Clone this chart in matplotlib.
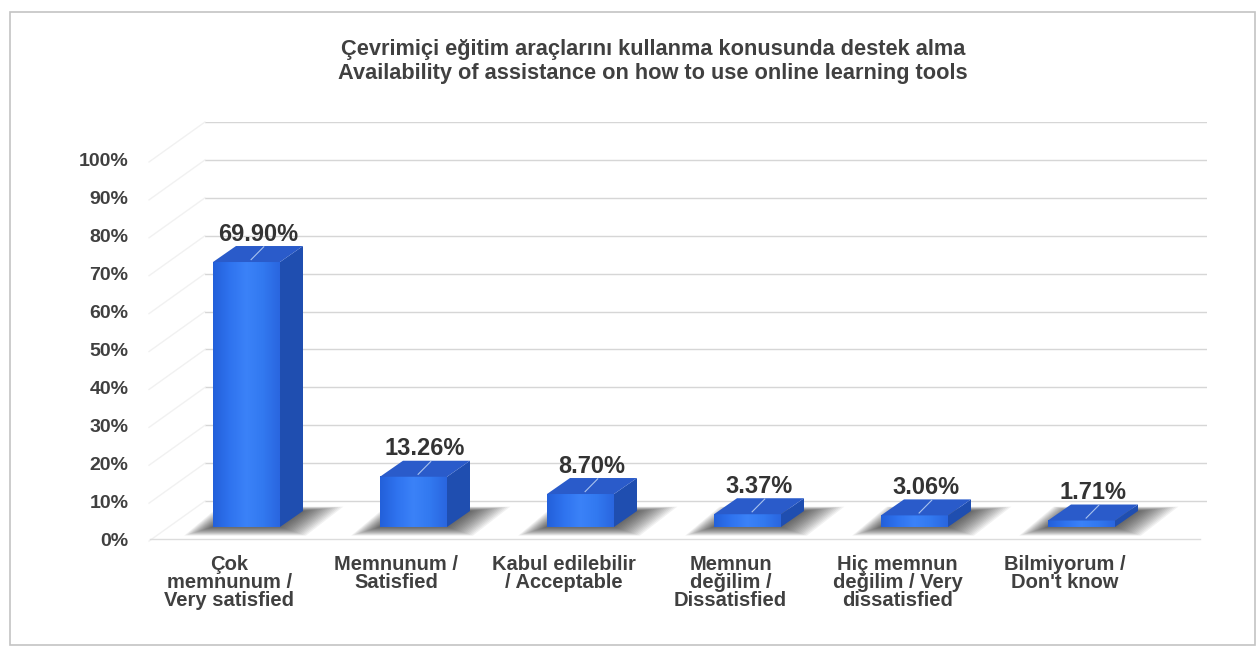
import numpy as np
import matplotlib
matplotlib.use('Agg')
import matplotlib.pyplot as plt
from matplotlib.patches import Polygon, Rectangle
from matplotlib.transforms import ScaledTranslation
from matplotlib.colors import LinearSegmentedColormap

plt.rcParams['font.family'] = ['Liberation Sans', 'DejaVu Sans']

title_tr = 'Çevrimiçi eğitim araçlarını kullanma konusunda destek alma'
title_en = 'Availability of assistance on how to use online learning tools'

categories = ['Çok\nmemnunum /\nVery satisfied',
              'Memnunum /\nSatisfied',
              'Kabul edilebilir\n/ Acceptable',
              'Memnun\ndeğilim /\nDissatisfied',
              'Hiç memnun\ndeğilim / Very\ndissatisfied',
              'Bilmiyorum /\nDon\'t know']
values = [69.90, 13.26, 8.70, 3.37, 3.06, 1.71]
yticks = [0, 10, 20, 30, 40, 50, 60, 70, 80, 90, 100]

W, H, DPI = 1260, 652, 100
PX_X = 167.0          # pixels per category step
PX_Y = 417.0 / 110    # pixels per percent
BAR_W = 67 / PX_X
DX = 23 / PX_X        # depth of the 3d box
DY = 16 / PX_Y
TXT = '#404040'

fig = plt.figure(figsize=(W / DPI, H / DPI), dpi=DPI)
ax = fig.add_axes([205 / W, 113 / H, 1002 / W, 417 / H])
x_lo = -41.5 / PX_X
x_hi = (1207 - 246.5) / PX_X
for s in ax.spines.values():
    s.set_visible(False)
ax.set_xticks([])
ax.set_yticks(yticks)
ax.set_yticklabels([f'{t}%' for t in yticks], fontsize=14, fontweight='bold', color=TXT)
ax.tick_params(axis='y', length=0, pad=55)

# back wall grid + faint side wall lines
for v in range(10, 111, 10):
    ax.axhline(v, color='#d6d6d6', lw=1, zorder=0)
    ax.plot([x_lo, x_lo - 56 / PX_X], [v, v - 40 / PX_Y], color='#f1f1f1', lw=1,
            clip_on=False, zorder=0)
ax.plot([x_lo - 55 / PX_X, (1200 - 246.5) / PX_X], [0, 0], color='#dcdcdc', lw=1,
        clip_on=False, zorder=0)

# the boxes sit a little in front of (above) the back-wall zero line
bar_tr = ax.transData + ScaledTranslation(0, 12 / DPI, fig.dpi_scale_trans)
lab_tr = ax.transData + ScaledTranslation(0, 40 / DPI, fig.dpi_scale_trans)
cat_tr = ax.transData + ScaledTranslation(-17 / DPI, -16 / DPI, fig.dpi_scale_trans)

front_cmap = LinearSegmentedColormap.from_list(
    'front', ['#2360da', '#2f73ef', '#3b82f8', '#3279f0', '#2a66e0'])
grad = np.linspace(0, 1, 64)[None, :]

for i, v in enumerate(values):
    x0, x1 = i - BAR_W / 2, i + BAR_W / 2

    # soft shadow on the floor
    for k in range(16):
        e = (16 - k) * 1.8
        ex, ey = e / PX_X, e / PX_Y
        shadow = Polygon([(x0 - ex * 1.0, -ey * 0.3), (x1 + ex * 0.9, -ey * 0.3),
                          (x1 + DX + ex * 1.4, DY + ey * 0.15),
                          (x0 + DX - ex * 0.6, DY + ey * 0.15)],
                         closed=True, fc='#1a1a1a', ec='none', alpha=0.06,
                         transform=bar_tr, zorder=2, clip_on=False)
        ax.add_patch(shadow)

    ax.imshow(grad, cmap=front_cmap, extent=(x0, x1, 0, v), aspect='auto',
              transform=bar_tr, zorder=4, interpolation='bilinear', clip_on=False)
    side = Polygon([(x1, 0), (x1 + DX, DY), (x1 + DX, v + DY), (x1, v)],
                   closed=True, fc='#1f4eb0', ec='none', transform=bar_tr, zorder=4,
                   clip_on=False)
    top = Polygon([(x0, v), (x1, v), (x1 + DX, v + DY), (x0 + DX, v + DY)],
                  closed=True, fc='#2a5bca', ec='none', transform=bar_tr, zorder=4,
                  clip_on=False)
    ax.add_patch(side)
    ax.add_patch(top)

    # leader line from the label into the top face
    ax.plot([i + DX * 0.2, i + DX * 0.75], [v + DY * 0.15, v + DY * 0.95],
            color='#a9c3ee', lw=0.8, transform=bar_tr, zorder=5, clip_on=False)

    ax.text(i + DX / 2, v, f'{v:.2f}%', transform=lab_tr, ha='center', va='center',
            fontsize=17, fontweight='bold', color='#333333', zorder=6)

    ax.text(i, 0, categories[i], transform=cat_tr, ha='center', va='top',
            fontsize=14.5, fontweight='bold', color=TXT, linespacing=0.93)

ax.set_xlim(x_lo, x_hi)
ax.set_ylim(0, 110)

fig.text(653 / W, 1 - 49 / H, title_tr, ha='center', va='center',
         fontsize=15.7, fontweight='bold', color=TXT)
fig.text(653 / W, 1 - 73 / H, title_en, ha='center', va='center',
         fontsize=15.7, fontweight='bold', color=TXT)

fig.patches.append(Rectangle((10 / W, 7 / H), 1245 / W, 633 / H, transform=fig.transFigure,
                             fill=False, ec='#c4c4c4', lw=1.2))

fig.savefig('out.png', dpi=DPI)
